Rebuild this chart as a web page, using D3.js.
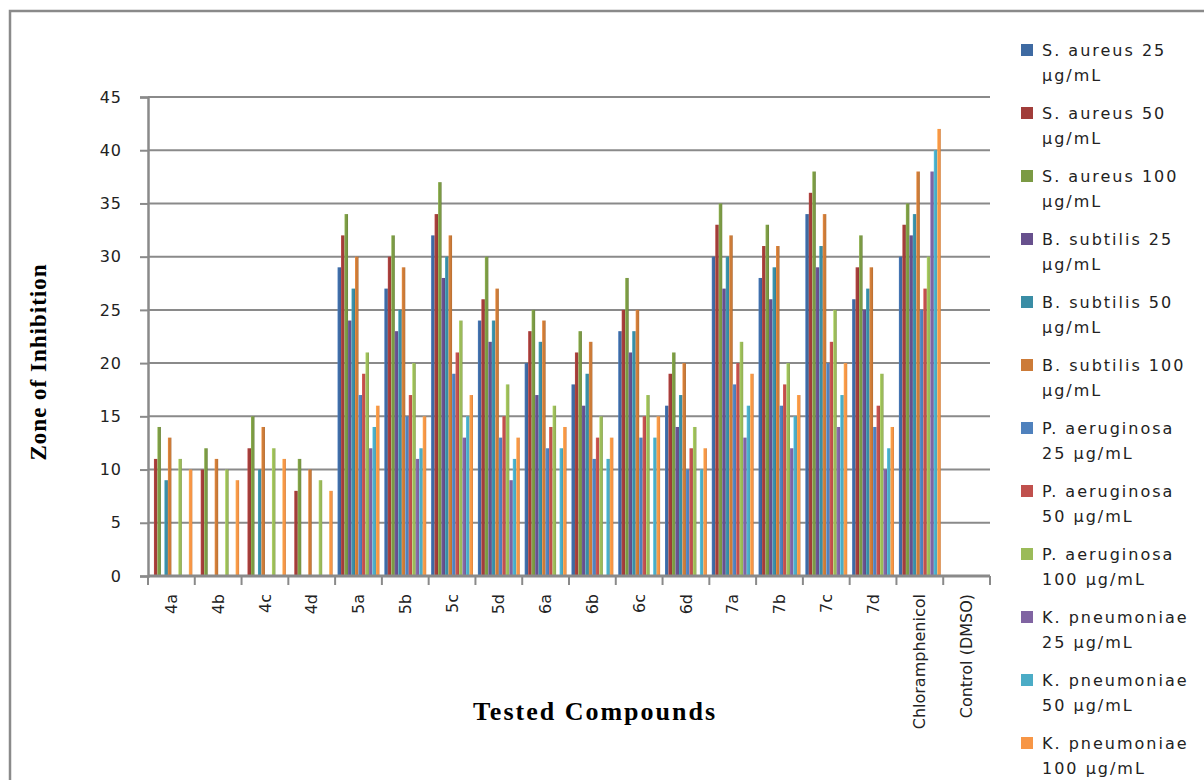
<!DOCTYPE html>
<html>
<head>
<meta charset="utf-8">
<script src="https://cdn.jsdelivr.net/npm/d3@7"></script>
<style>
    body { margin: 0; background: #fff; }
    svg { display: block; }
    .tick-label { font-family: "DejaVu Sans", Verdana, sans-serif; fill: #222; }
    .axis-title { font-family: "Liberation Serif", "Times New Roman", serif; font-weight: bold; fill: #000; }
</style>
</head>
<body>
<div id="chart"></div>
<script>
// Compounds on the x axis
const compounds = ["4a", "4b", "4c", "4d", "5a", "5b", "5c", "5d", "6a", "6b", "6c", "6d",
    "7a", "7b", "7c", "7d", "Chloramphenicol", "Control (DMSO)"];

// Zone of inhibition per series (one value per compound)
const sAureus25 = [0, 0, 0, 0, 29, 27, 32, 24, 20, 18, 23, 16, 30, 28, 34, 26, 30, 0];
const sAureus50 = [11, 10, 12, 8, 32, 30, 34, 26, 23, 21, 25, 19, 33, 31, 36, 29, 33, 0];
const sAureus100 = [14, 12, 15, 11, 34, 32, 37, 30, 25, 23, 28, 21, 35, 33, 38, 32, 35, 0];
const bSubtilis25 = [0, 0, 0, 0, 24, 23, 28, 22, 17, 16, 21, 14, 27, 26, 29, 25, 32, 0];
const bSubtilis50 = [9, 0, 10, 0, 27, 25, 30, 24, 22, 19, 23, 17, 30, 29, 31, 27, 34, 0];
const bSubtilis100 = [13, 11, 14, 10, 30, 29, 32, 27, 24, 22, 25, 20, 32, 31, 34, 29, 38, 0];
const pAeruginosa25 = [0, 0, 0, 0, 17, 15, 19, 13, 12, 11, 13, 10, 18, 16, 20, 14, 25, 0];
const pAeruginosa50 = [0, 0, 0, 0, 19, 17, 21, 15, 14, 13, 15, 12, 20, 18, 22, 16, 27, 0];
const pAeruginosa100 = [11, 10, 12, 9, 21, 20, 24, 18, 16, 15, 17, 14, 22, 20, 25, 19, 30, 0];
const kPneumoniae25 = [0, 0, 0, 0, 12, 11, 13, 9, 0, 0, 0, 0, 13, 12, 14, 10, 38, 0];
const kPneumoniae50 = [0, 0, 0, 0, 14, 12, 15, 11, 12, 11, 13, 10, 16, 15, 17, 12, 40, 0];
const kPneumoniae100 = [10, 9, 11, 8, 16, 15, 17, 13, 14, 13, 15, 12, 19, 17, 20, 14, 42, 0];

const seriesNames = ["S. aureus 25 µg/mL", "S. aureus 50 µg/mL", "S. aureus 100 µg/mL",
    "B. subtilis 25 µg/mL", "B. subtilis 50 µg/mL", "B. subtilis 100 µg/mL",
    "P. aeruginosa 25 µg/mL", "P. aeruginosa 50 µg/mL", "P. aeruginosa 100 µg/mL",
    "K. pneumoniae 25 µg/mL", "K. pneumoniae 50 µg/mL", "K. pneumoniae 100 µg/mL"];
const seriesValues = [sAureus25, sAureus50, sAureus100, bSubtilis25, bSubtilis50, bSubtilis100,
    pAeruginosa25, pAeruginosa50, pAeruginosa100, kPneumoniae25, kPneumoniae50, kPneumoniae100];
const seriesColors = ["#3e6aa2", "#a13d3a", "#7b9a44", "#67508d", "#3a8da5", "#cc7b38",
    "#4f81bd", "#c0504d", "#9bbb59", "#8064a2", "#4bacc6", "#f79646"];

const yTicks = [0, 5, 10, 15, 20, 25, 30, 35, 40, 45];

// Size
const width = 1204, height = 780;
const margin = { left: 148, right: 990, top: 97, bottom: 576 };

const svg = d3.select("#chart")
    .append("svg")
    .attr("width", width)
    .attr("height", height);

// outer frame
svg.append("rect")
    .attr("x", 10).attr("y", 11)
    .attr("width", 1220).attr("height", 820)
    .attr("fill", "none")
    .attr("stroke", "#8a8a8a")
    .attr("stroke-width", 2.5);

// Scales
const x = d3.scaleBand()
    .domain(compounds)
    .range([margin.left, margin.right])
    .padding(0);

const xs = d3.scaleBand()
    .domain(d3.range(seriesNames.length))
    .range([0, x.bandwidth()])
    .paddingInner(0)
    .paddingOuter(0.7);

const y = d3.scaleLinear()
    .domain([0, 45])
    .range([margin.bottom, margin.top]);

// gradients for shaded bars
const defs = svg.append("defs");
seriesColors.forEach((c, i) => {
    const g = defs.append("linearGradient")
        .attr("id", "grad" + i)
        .attr("x1", "0%").attr("x2", "100%")
        .attr("y1", "0%").attr("y2", "0%");
    g.append("stop").attr("offset", "0%").attr("stop-color", d3.color(c).brighter(0.5));
    g.append("stop").attr("offset", "35%").attr("stop-color", c);
    g.append("stop").attr("offset", "75%").attr("stop-color", c);
    g.append("stop").attr("offset", "100%").attr("stop-color", d3.color(c).darker(0.6));
});

// Gridlines
svg.append("g")
    .selectAll("line")
    .data(yTicks.filter(d => d > 0))
    .enter()
    .append("line")
    .attr("x1", margin.left).attr("x2", margin.right)
    .attr("y1", d => y(d)).attr("y2", d => y(d))
    .attr("stroke", "#8a8a8a")
    .attr("stroke-width", 2);

// Y axis
const yAxis = svg.append("g")
    .attr("transform", `translate(${margin.left},0)`)
    .call(d3.axisLeft(y).tickValues(yTicks).tickSize(8).tickPadding(18));
yAxis.select(".domain").attr("stroke", "#8a8a8a").attr("stroke-width", 2.5);
yAxis.selectAll(".tick line").attr("stroke", "#8a8a8a").attr("stroke-width", 2);
yAxis.selectAll(".tick text")
    .attr("class", "tick-label")
    .style("font-size", "16px")
    .style("letter-spacing", "1px");

// Bars
const groups = svg.append("g")
    .selectAll("g")
    .data(compounds)
    .enter()
    .append("g")
    .attr("transform", d => `translate(${x(d)},0)`);

groups.selectAll("rect")
    .data((d, ci) => seriesValues.map((vals, si) => ({ s: si, v: vals[ci] })))
    .enter()
    .filter(d => d.v > 0)
    .append("rect")
    .attr("x", d => xs(d.s))
    .attr("y", d => y(d.v))
    .attr("width", xs.bandwidth())
    .attr("height", d => y(0) - y(d.v))
    .attr("fill", d => `url(#grad${d.s})`);

// X axis
const xAxis = svg.append("g")
    .attr("transform", `translate(0,${margin.bottom})`);
xAxis.append("line")
    .attr("x1", margin.left).attr("x2", margin.right)
    .attr("y1", 0).attr("y2", 0)
    .attr("stroke", "#8a8a8a")
    .attr("stroke-width", 3);
xAxis.selectAll(".xtick")
    .data(compounds.concat([null]))
    .enter()
    .append("line")
    .attr("x1", d => d === null ? margin.right : x(d))
    .attr("x2", d => d === null ? margin.right : x(d))
    .attr("y1", 0).attr("y2", 9)
    .attr("stroke", "#8a8a8a")
    .attr("stroke-width", 2);
xAxis.selectAll(".xlabel")
    .data(compounds)
    .enter()
    .append("text")
    .attr("class", "tick-label")
    .attr("transform", d => `translate(${x(d) + x.bandwidth() / 2},18) rotate(-90)`)
    .attr("text-anchor", "end")
    .attr("dy", "0.35em")
    .style("font-size", "16px")
    .text(d => d);

// Axis titles
svg.append("text")
    .attr("class", "axis-title")
    .attr("transform", "translate(46,362) rotate(-90)")
    .attr("text-anchor", "middle")
    .style("font-size", "23px")
    .style("letter-spacing", "1px")
    .text("Zone of Inhibition");

svg.append("text")
    .attr("class", "axis-title")
    .attr("x", 595)
    .attr("y", 720)
    .attr("text-anchor", "middle")
    .style("font-size", "26px")
    .style("letter-spacing", "2px")
    .text("Tested Compounds");

// Legend
const legend = svg.append("g").attr("transform", "translate(1021,50)");
const items = legend.selectAll("g")
    .data(seriesNames)
    .enter()
    .append("g")
    .attr("transform", (d, i) => `translate(0,${i * 63})`);

items.append("rect")
    .attr("x", 0).attr("y", -6)
    .attr("width", 12).attr("height", 12)
    .attr("fill", (d, i) => seriesColors[i]);

items.each(function (name) {
    const t = d3.select(this).append("text")
        .attr("class", "tick-label")
        .attr("x", 21)
        .attr("y", 6)
        .style("font-size", "16px")
        .style("letter-spacing", "2px");
    // wrap words into lines no wider than maxW
    const words = name.split(" ");
    const maxW = 152;
    let line = [];
    let tspan = t.append("tspan").attr("x", 21).attr("dy", 0);
    words.forEach(w => {
        line.push(w);
        tspan.text(line.join(" "));
        if (tspan.node().getComputedTextLength() > maxW && line.length > 1) {
            line.pop();
            tspan.text(line.join(" "));
            line = [w];
            tspan = t.append("tspan").attr("x", 21).attr("dy", 25).text(w);
        }
    });
});
</script>
</body>
</html>
